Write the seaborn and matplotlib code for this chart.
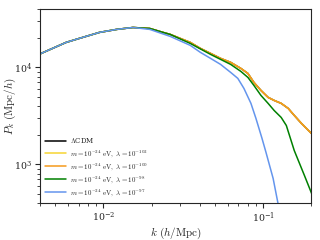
import numpy as np
import pandas as pd
import matplotlib
matplotlib.use("Agg")
import matplotlib.pyplot as plt
import seaborn as sns

# k (h/Mpc) and P_k (Mpc/h)
k_lcdm = [0.00394, 0.00583, 0.00705, 0.00944, 0.0121, 0.0153, 0.0195, 0.0236, 0.0262,
          0.0350, 0.0405, 0.0469, 0.0542, 0.0627, 0.0726, 0.0804, 0.0877, 0.0971,
          0.1076, 0.1174, 0.1300, 0.1439, 0.157, 0.1741, 0.1927, 0.204]
p_lcdm = [13620, 18100, 19900, 22960, 24650, 25800, 25200, 22960, 21880,
          18100, 15700, 13940, 12390, 11270, 9770, 8670, 7000, 5790,
          4910, 4570, 4260, 3780, 3200, 2650, 2240, 2040]

k_l102 = k_lcdm
p_l102 = p_lcdm
k_l100 = k_lcdm
p_l100 = p_lcdm

k_l98 = [0.00394, 0.00583, 0.00705, 0.00944, 0.0121, 0.0153, 0.0195, 0.0236, 0.0262,
         0.0350, 0.0469, 0.0627, 0.0726, 0.0804, 0.0877, 0.0971, 0.1076, 0.1174,
         0.1300, 0.140, 0.157, 0.1817, 0.204]
p_l98 = [13620, 18100, 19900, 22960, 24650, 25800, 25200, 22960, 21880,
         17660, 13620, 10740, 9100, 7890, 6520, 5140, 4260, 3600,
         3050, 2520, 1390, 771, 479]

k_l97 = [0.00394, 0.00583, 0.00705, 0.00944, 0.0121, 0.0153, 0.0195, 0.0262, 0.0350,
         0.0405, 0.0469, 0.0542, 0.0627, 0.0695, 0.0759, 0.0840, 0.0903, 0.0986,
         0.1044, 0.1157, 0.1245]
p_l97 = [13620, 18100, 19900, 22960, 24650, 25800, 24650, 20880, 16870,
         14290, 12390, 10740, 8880, 7710, 6080, 4260, 2980, 1850,
         1330, 718, 387]

labels = [r'$\Lambda$CDM',
          r'$m=10^{-24}\ \mathrm{eV},\ \lambda=10^{-102}$',
          r'$m=10^{-24}\ \mathrm{eV},\ \lambda=10^{-100}$',
          r'$m=10^{-24}\ \mathrm{eV},\ \lambda=10^{-98}$',
          r'$m=10^{-24}\ \mathrm{eV},\ \lambda=10^{-97}$']
colors = ['black', '#f7d531', '#f59a1b', 'green', 'cornflowerblue']

series = [(k_lcdm, p_lcdm), (k_l102, p_l102), (k_l100, p_l100), (k_l98, p_l98), (k_l97, p_l97)]
frames = []
for lab, (k, p) in zip(labels, series):
    frames.append(pd.DataFrame({'k': k, 'P': p, 'model': lab}))
df = pd.concat(frames, ignore_index=True)

sns.set_style('ticks')
plt.rcParams['mathtext.fontset'] = 'cm'
plt.rcParams['font.family'] = ['DejaVu Serif']

fig = plt.figure(figsize=(3.2, 2.4), dpi=100)
ax = fig.add_axes([0.125, 0.154, 0.847, 0.8085])

sns.lineplot(data=df, x='k', y='P', hue='model', hue_order=labels,
             palette=dict(zip(labels, colors)), linewidth=1.1, sort=False,
             estimator=None, ax=ax)

ax.set_xscale('log')
ax.set_yscale('log')
ax.set_xlim(0.004, 0.2)
ax.set_ylim(400, 4e4)
ax.set_xlabel(r'$k\ (h/\mathrm{Mpc})$', fontsize=8)
ax.set_ylabel(r'$P_k\ (\mathrm{Mpc}/h)$', fontsize=8)
ax.xaxis.set_label_coords(0.5, -0.115)
ax.yaxis.set_label_coords(-0.08, 0.5)
ax.tick_params(axis='both', which='major', labelsize=6.8, length=3.5, width=0.8, pad=2)
ax.tick_params(axis='both', which='minor', length=2, width=0.6)
for s in ax.spines.values():
    s.set_linewidth(0.8)

leg = ax.legend(loc='lower left', fontsize=5, frameon=False, handlelength=3,
                borderaxespad=0.3, labelspacing=0.35, handletextpad=0.6)

fig.savefig('out.png', dpi=100)
